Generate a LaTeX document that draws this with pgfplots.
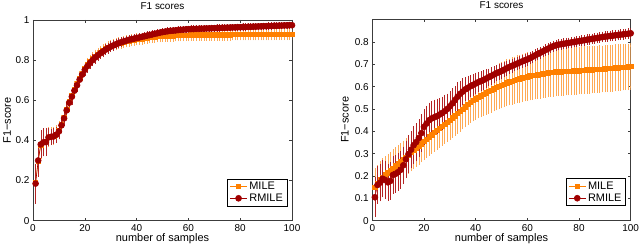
\documentclass[border=0pt]{standalone}
\usepackage{pgfplots}
\pgfplotsset{compat=1.18}
\usepackage{pgfplotstable}
\usepackage{fontspec}
\setmainfont{Liberation Sans}
\definecolor{milec}{RGB}{255,128,0}
\definecolor{milebar}{RGB}{255,170,85}
\definecolor{rmilec}{RGB}{160,0,0}
\definecolor{rmilebar}{RGB}{180,35,35}
\definecolor{axc}{RGB}{60,60,60}

\pgfplotstableread{
x y e
1 0.185 0.090
2 0.300 0.070
3 0.380 0.060
4 0.390 0.060
5 0.392 0.060
6 0.415 0.035
7 0.418 0.030
8 0.420 0.030
9 0.428 0.030
10 0.445 0.030
11 0.475 0.030
12 0.510 0.030
13 0.550 0.030
14 0.588 0.030
15 0.618 0.030
16 0.648 0.028
17 0.675 0.026
18 0.703 0.025
19 0.728 0.024
20 0.752 0.023
21 0.770 0.022
22 0.786 0.021
23 0.800 0.020
24 0.813 0.020
25 0.824 0.019
26 0.834 0.018
27 0.843 0.018
28 0.852 0.017
29 0.860 0.017
30 0.867 0.016
31 0.873 0.016
32 0.879 0.015
33 0.884 0.015
34 0.889 0.014
35 0.893 0.014
36 0.897 0.013
37 0.901 0.013
38 0.904 0.012
39 0.907 0.012
40 0.910 0.012
41 0.913 0.011
42 0.916 0.011
43 0.919 0.011
44 0.922 0.011
45 0.925 0.010
46 0.928 0.010
47 0.931 0.010
48 0.934 0.010
49 0.937 0.010
50 0.940 0.010
51 0.942 0.009
52 0.944 0.009
53 0.946 0.009
54 0.947 0.009
55 0.948 0.009
56 0.950 0.009
57 0.951 0.009
58 0.952 0.009
59 0.953 0.009
60 0.954 0.008
61 0.955 0.008
62 0.955 0.008
63 0.956 0.008
64 0.956 0.008
65 0.957 0.008
66 0.957 0.008
67 0.958 0.008
68 0.958 0.008
69 0.959 0.008
70 0.959 0.008
71 0.960 0.008
72 0.960 0.008
73 0.961 0.008
74 0.961 0.008
75 0.962 0.008
76 0.962 0.008
77 0.963 0.008
78 0.963 0.008
79 0.964 0.008
80 0.964 0.008
81 0.965 0.008
82 0.965 0.008
83 0.966 0.008
84 0.966 0.008
85 0.967 0.008
86 0.967 0.008
87 0.968 0.008
88 0.968 0.008
89 0.969 0.008
90 0.969 0.008
91 0.970 0.008
92 0.970 0.008
93 0.971 0.008
94 0.971 0.008
95 0.972 0.008
96 0.972 0.008
97 0.973 0.008
98 0.973 0.008
99 0.974 0.008
100 0.974 0.008
}\leftR

\pgfplotstableread{
x y e
1 0.190 0.080
2 0.298 0.070
3 0.375 0.060
4 0.390 0.060
5 0.395 0.050
6 0.415 0.040
7 0.420 0.035
8 0.422 0.035
9 0.430 0.035
10 0.450 0.035
11 0.480 0.035
12 0.515 0.030
13 0.555 0.030
14 0.595 0.030
15 0.625 0.030
16 0.655 0.030
17 0.683 0.028
18 0.710 0.027
19 0.735 0.026
20 0.758 0.025
21 0.777 0.024
22 0.793 0.023
23 0.807 0.022
24 0.820 0.022
25 0.830 0.021
26 0.840 0.021
27 0.848 0.020
28 0.856 0.020
29 0.863 0.020
30 0.869 0.020
31 0.874 0.020
32 0.879 0.020
33 0.883 0.020
34 0.887 0.020
35 0.890 0.020
36 0.893 0.020
37 0.896 0.020
38 0.899 0.020
39 0.901 0.020
40 0.903 0.020
41 0.905 0.020
42 0.907 0.020
43 0.909 0.020
44 0.911 0.020
45 0.913 0.020
46 0.915 0.020
47 0.916 0.020
48 0.918 0.020
49 0.919 0.020
50 0.920 0.020
51 0.921 0.020
52 0.921 0.020
53 0.922 0.020
54 0.922 0.020
55 0.923 0.020
56 0.923 0.020
57 0.924 0.020
58 0.924 0.020
59 0.925 0.020
60 0.925 0.020
61 0.926 0.020
62 0.926 0.020
63 0.926 0.020
64 0.926 0.020
65 0.926 0.020
66 0.926 0.020
67 0.926 0.020
68 0.926 0.020
69 0.927 0.020
70 0.927 0.020
71 0.927 0.020
72 0.927 0.020
73 0.927 0.020
74 0.927 0.020
75 0.927 0.020
76 0.927 0.020
77 0.928 0.020
78 0.928 0.020
79 0.928 0.020
80 0.928 0.020
81 0.928 0.020
82 0.928 0.020
83 0.928 0.020
84 0.928 0.020
85 0.929 0.020
86 0.929 0.020
87 0.929 0.020
88 0.929 0.020
89 0.929 0.020
90 0.929 0.020
91 0.929 0.020
92 0.929 0.020
93 0.930 0.020
94 0.930 0.020
95 0.930 0.020
96 0.930 0.020
97 0.930 0.020
98 0.930 0.020
99 0.930 0.020
100 0.930 0.020
}\leftM

\pgfplotstableread{
x y e
1 0.105 0.080
2 0.160 0.075
3 0.170 0.075
4 0.188 0.075
5 0.182 0.075
6 0.172 0.075
7 0.178 0.075
8 0.205 0.075
9 0.210 0.075
10 0.218 0.075
11 0.228 0.075
12 0.248 0.075
13 0.275 0.075
14 0.298 0.075
15 0.318 0.075
16 0.338 0.075
17 0.352 0.075
18 0.370 0.075
19 0.392 0.075
20 0.420 0.070
21 0.435 0.070
22 0.450 0.070
23 0.458 0.070
24 0.463 0.070
25 0.468 0.070
26 0.475 0.065
27 0.482 0.065
28 0.490 0.065
29 0.500 0.060
30 0.512 0.060
31 0.525 0.060
32 0.540 0.055
33 0.555 0.055
34 0.568 0.050
35 0.578 0.050
36 0.588 0.045
37 0.595 0.045
38 0.602 0.040
39 0.608 0.040
40 0.614 0.040
41 0.620 0.035
42 0.625 0.035
43 0.630 0.035
44 0.636 0.032
45 0.642 0.030
46 0.648 0.030
47 0.654 0.028
48 0.660 0.027
49 0.665 0.026
50 0.670 0.025
51 0.676 0.024
52 0.682 0.023
53 0.688 0.022
54 0.693 0.022
55 0.698 0.021
56 0.703 0.021
57 0.708 0.020
58 0.713 0.020
59 0.718 0.020
60 0.722 0.020
61 0.728 0.019
62 0.734 0.019
63 0.740 0.018
64 0.746 0.018
65 0.752 0.018
66 0.758 0.017
67 0.764 0.017
68 0.770 0.017
69 0.776 0.016
70 0.781 0.016
71 0.785 0.016
72 0.788 0.016
73 0.790 0.015
74 0.792 0.015
75 0.794 0.015
76 0.796 0.015
77 0.798 0.015
78 0.800 0.015
79 0.802 0.015
80 0.804 0.015
81 0.806 0.015
82 0.808 0.015
83 0.810 0.015
84 0.812 0.015
85 0.814 0.015
86 0.816 0.015
87 0.818 0.015
88 0.820 0.015
89 0.822 0.015
90 0.824 0.015
91 0.825 0.015
92 0.827 0.015
93 0.828 0.015
94 0.830 0.015
95 0.831 0.015
96 0.833 0.015
97 0.834 0.015
98 0.836 0.015
99 0.837 0.015
100 0.839 0.015
}\rightR

\pgfplotstableread{
x y e
1 0.150 0.075
2 0.165 0.075
3 0.185 0.075
4 0.195 0.075
5 0.205 0.075
6 0.215 0.075
7 0.225 0.075
8 0.235 0.075
9 0.245 0.075
10 0.255 0.075
11 0.265 0.075
12 0.275 0.075
13 0.285 0.075
14 0.295 0.075
15 0.305 0.075
16 0.315 0.075
17 0.325 0.075
18 0.335 0.075
19 0.345 0.075
20 0.355 0.075
21 0.365 0.076
22 0.375 0.076
23 0.385 0.077
24 0.395 0.077
25 0.405 0.078
26 0.414 0.078
27 0.423 0.079
28 0.432 0.079
29 0.441 0.080
30 0.450 0.080
31 0.460 0.080
32 0.470 0.081
33 0.480 0.081
34 0.490 0.082
35 0.500 0.082
36 0.510 0.083
37 0.520 0.083
38 0.530 0.084
39 0.538 0.084
40 0.546 0.085
41 0.553 0.086
42 0.560 0.087
43 0.566 0.088
44 0.572 0.089
45 0.578 0.090
46 0.584 0.091
47 0.590 0.092
48 0.596 0.093
49 0.602 0.094
50 0.607 0.095
51 0.612 0.095
52 0.617 0.096
53 0.621 0.096
54 0.625 0.097
55 0.629 0.097
56 0.633 0.098
57 0.636 0.098
58 0.639 0.099
59 0.642 0.099
60 0.645 0.100
61 0.648 0.100
62 0.650 0.100
63 0.652 0.100
64 0.654 0.100
65 0.656 0.100
66 0.658 0.100
67 0.660 0.100
68 0.662 0.100
69 0.664 0.100
70 0.665 0.100
71 0.666 0.099
72 0.666 0.099
73 0.667 0.099
74 0.668 0.099
75 0.669 0.099
76 0.669 0.099
77 0.670 0.098
78 0.671 0.098
79 0.671 0.098
80 0.672 0.098
81 0.673 0.098
82 0.674 0.098
83 0.675 0.097
84 0.675 0.097
85 0.676 0.097
86 0.677 0.097
87 0.678 0.097
88 0.679 0.097
89 0.679 0.096
90 0.680 0.096
91 0.681 0.096
92 0.682 0.096
93 0.683 0.096
94 0.684 0.096
95 0.685 0.095
96 0.686 0.095
97 0.687 0.095
98 0.688 0.095
99 0.689 0.095
100 0.690 0.095
}\rightM

\pgfplotsset{
  myax/.style={
    scale only axis,
    xmin=0, xmax=100, ymin=0,
    xtick={0,20,...,100},
    axis line style={axc, line width=0.5bp},
    major tick style={axc, line width=0.5bp},
    major tick length=3bp,
    tick label style={font=\fontsize{10}{12}\selectfont, text=black},
    /pgf/number format/assume math mode=true,
    label style={font=\fontsize{11}{13}\selectfont},
    title style={font=\fontsize{10}{12}\selectfont, anchor=center, yshift=7.5bp},
    xlabel style={at={(axis description cs:0.5,-0.088)}, anchor=center},
    title={F1 scores},
    xlabel={number of samples},
    ylabel={F1−score},
    legend cell align=left,
    legend style={font=\fontsize{11}{13}\selectfont, draw=black, line width=0.5bp, fill=white,
      anchor=south east, inner xsep=2bp, inner ysep=1bp, row sep=-1bp},
  },
  mile/.style={color=milec, line width=0.6bp, mark=square*, mark size=2.2bp,
    mark options={fill=milec, draw=milec},
    error bars/.cd, y dir=both, y explicit,
    error bar style={color=milebar, line width=0.5bp},
    error mark options={color=milebar, mark size=2bp, line width=0.5bp}},
  rmile/.style={color=rmilec, line width=0.6bp, mark=*, mark size=3bp,
    mark options={fill=rmilec, draw=rmilec},
    error bars/.cd, y dir=both, y explicit,
    error bar style={color=rmilebar, line width=0.5bp},
    error mark options={color=rmilebar, mark size=2bp, line width=0.5bp}},
}

\begin{document}
\begin{tikzpicture}
\begin{axis}[myax,
  at={(0bp,0bp)}, anchor=south west,
  width=259bp, height=200.7bp,
  ymax=1, ytick={0,0.2,...,1},
  ylabel style={at={(axis description cs:-0.1,0.5)}, anchor=center},
  legend style={at={(axis description cs:0.981,0.073)}},
]
\addplot+[mile] table[x=x, y=y, y error=e] {\leftM};
\addlegendentry{MILE}
\addplot+[rmile] table[x=x, y=y, y error=e] {\leftR};
\addlegendentry{RMILE}
\end{axis}
\begin{axis}[myax,
  at={(339.3bp,0bp)}, anchor=south west,
  width=258.4bp, height=201.7bp,
  ymax=0.903, ytick={0,0.1,...,0.8},
  ylabel style={at={(axis description cs:-0.106,0.5)}, anchor=center},
  legend style={at={(axis description cs:0.981,0.073)}},
]
\addplot+[mile] table[x=x, y=y, y error=e] {\rightM};
\addlegendentry{MILE}
\addplot+[rmile] table[x=x, y=y, y error=e] {\rightR};
\addlegendentry{RMILE}
\end{axis}
\pgfresetboundingbox
\path[use as bounding box] (-33bp,-28.3bp) rectangle (607bp,220.7bp);
\end{tikzpicture}
\end{document}
